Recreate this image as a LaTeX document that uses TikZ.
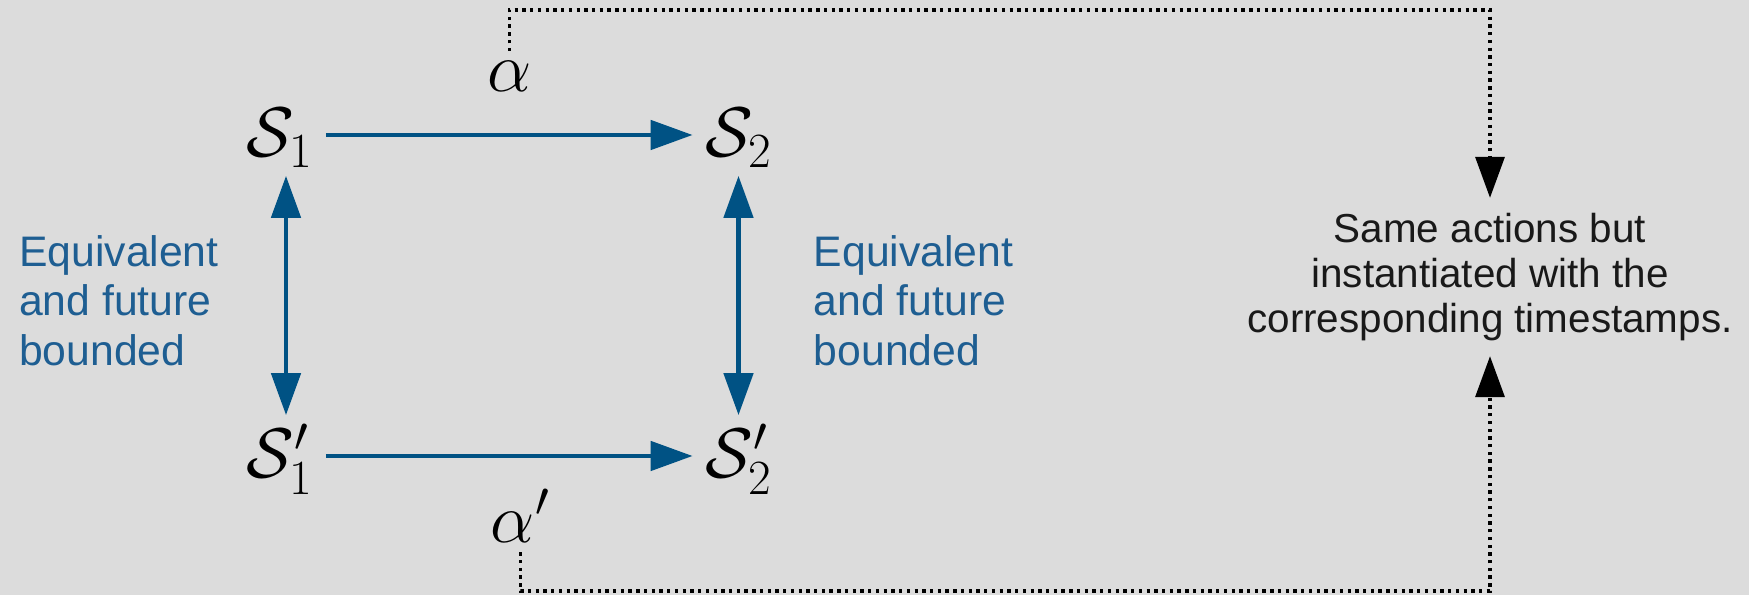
\RequirePackage{fix-cm}
\documentclass[tikz,border=0pt]{standalone}
\usepackage{fontspec}
\newfontfamily\labelfont{Liberation Sans}
\usepackage{amsmath}
\usepackage{xcolor}
\usetikzlibrary{positioning,arrows.meta}

\definecolor{bggray}{RGB}{220,220,220}
\definecolor{stateblue}{RGB}{0,82,132}
\definecolor{labelblue}{RGB}{30,94,146}

\begin{document}
\begin{tikzpicture}[
    state/.style={
        on grid,
        inner xsep=0.25cm,
        inner ysep=0.12cm,
        text height=1.12cm,
        text depth=0.26cm,
        font=\fontsize{40}{48}\selectfont
    },
    act/.style={
        inner sep=0.15cm,
        font=\fontsize{40}{48}\selectfont
    },
    equiv/.style={
        inner sep=0pt,
        text=labelblue,
        align=left,
        font=\labelfont\fontsize{24.3}{28.3}\selectfont
    },
    note/.style={
        align=center,
        inner sep=0.3cm,
        text=black!90,
        font=\labelfont\fontsize{23}{25.6}\selectfont
    },
    arrow/.style={
        -{Triangle[length=0.84cm,width=0.58cm]},
        line width=2.7pt,
        draw=stateblue
    },
    biarrow/.style={
        arrow,
        {Triangle[length=0.84cm,width=0.58cm]}-{Triangle[length=0.84cm,width=0.58cm]}
    },
    link/.style={
        -{Triangle[length=0.82cm,width=0.58cm]},
        line width=1.9pt,
        dash pattern=on 1.9pt off 2.5pt
    }
]

\fill[bggray] (0,0) rectangle (34.98,11.9);
\useasboundingbox (0,0) rectangle (34.98,11.9);

\node[state] (s1) at (5.6,9.2) {$\mathcal{S}_1$};
\node[state] (s2) [right=9.17cm of s1] {$\mathcal{S}_2$};
\node[state] (s1p) [below=6.42cm of s1] {$\mathcal{S}'_1$};
\node[state] (s2p) [below=6.42cm of s2] {$\mathcal{S}'_2$};

\node[note] (same) at (29.8,6.36)
{Same actions but\\ instantiated with the\\ corresponding timestamps.};

\coordinate (top) at (0,11.7);
\coordinate (bot) at (0,0.08);

\draw[arrow] (s1) -- node[act, yshift=1.18cm] (alpha) {$\alpha$} (s2);
\draw[arrow] (s1p) -- node[act, xshift=0.22cm, yshift=-1.2cm] (alphap) {$\alpha'$} (s2p);

\draw[biarrow] ([xshift=0.12cm]s1.south) -- node[equiv, left=1.3cm, yshift=-0.1cm]
    {Equivalent\\and future\\bounded} ([xshift=0.12cm]s1p.north);
\draw[biarrow] (s2) -- node[equiv, right=1.46cm, yshift=-0.1cm]
    {Equivalent\\and future\\bounded} (s2p);

% dotted links to the timestamp note
\draw[link] (alpha) -- (alpha |- top) -| (same);
\draw[link] (alphap) -- (alphap |- bot) -| (same);

\end{tikzpicture}
\end{document}
